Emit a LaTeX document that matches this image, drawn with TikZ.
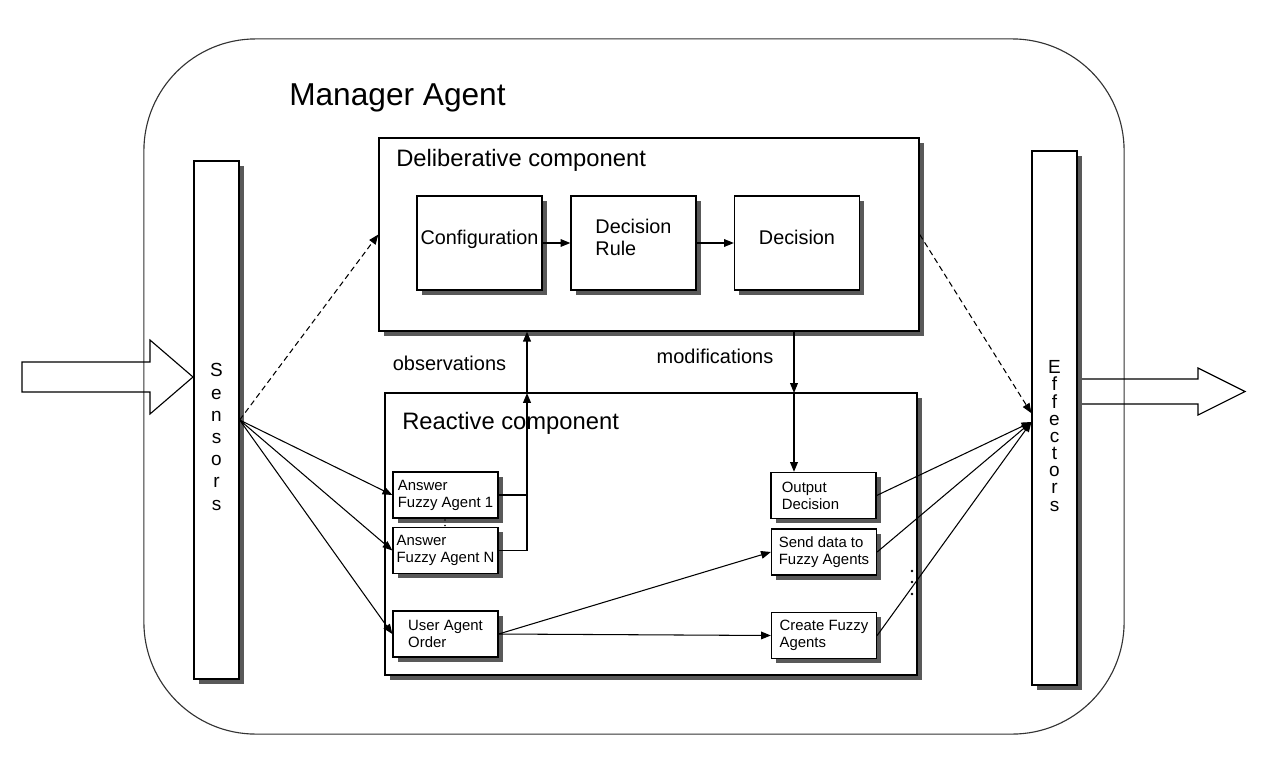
\documentclass[tikz,border=0pt]{standalone}
\usepackage{fontspec}
\setmainfont{Liberation Sans}
\usetikzlibrary{arrows.meta,shadows}

\begin{document}
\begin{tikzpicture}[x=0.025cm, y=-0.025cm, >={Triangle[length=7pt,width=5.5pt]},
  shade box/.style={draw, fill=white, line width=0.9pt, inner sep=0pt,
    drop shadow={shadow xshift=0.12cm, shadow yshift=-0.12cm, fill=black!65, opacity=1}},
  sidebar/.style={shade box, minimum width=1.125cm},
  sidetext/.style={inner sep=0pt, align=center},
  rulebox/.style={shade box, minimum width=3.125cm, minimum height=2.35cm, align=left,
    text depth=8pt, font=\fontsize{14.1}{15.6}\selectfont},
  taskbox/.style={shade box, minimum width=2.625cm, minimum height=1.15cm, align=left,
    font=\fontsize{10.6}{12.1}\selectfont},
  heading/.style={inner sep=0pt, anchor=west, font=\fontsize{16.9}{20}\selectfont},
  flow/.style={line width=0.75pt},
  hint/.style={flow, dash pattern=on 4pt off 2.6pt},
  bigarrow/.style={line width=0.8pt}]
  \useasboundingbox (0,0) rectangle (1276,776);

  \node[draw=black!80, line width=0.8pt, rounded corners=2.8cm,
    minimum width=24.5cm, minimum height=17.375cm] (mgr) at (634,386.5) {};
  \node[inner sep=0pt, anchor=west, font=\fontsize{22.5}{27}\selectfont] (mgrtitle) at (289,98) {Manager Agent};

  \node[sidebar, minimum height=12.95cm] (sens) at (216.5,420) {};
  \node[sidetext, font=\fontsize{13.5}{15.8}\selectfont] (senstext) at (216.5,437)
    {S\\e\\n\\s\\o\\r\\s};
  \node[sidebar, minimum height=13.35cm] (eff) at (1054.5,418) {};
  \node[sidetext, font=\fontsize{13.5}{12.2}\selectfont] (efftext) at (1054.5,436)
    {E\\f\\f\\e\\c\\t\\o\\r\\s};

  \node[shade box, minimum width=13.5cm, minimum height=4.825cm] (delib) at (649,234.5) {};
  \node[heading] (delibtitle) at (396,160) {Deliberative component};
  \node[rulebox] (conf) at (479.5,243) {Configuration};
  \node[rulebox] (rule) at (633.5,243) {Decision\\Rule};
  \node[rulebox] (dec) at (797,243) {Decision};

  \node[shade box, line width=2pt, minimum width=13.3cm, minimum height=7.05cm] (react) at (651,534) {};
  \node[heading] (reacttitle) at (402,423) {Reactive component};
  \node[taskbox] (ans1) at (445.5,495) {Answer\\Fuzzy Agent 1};
  \node[taskbox] (ansN) at (445.5,550.5) {Answer\\Fuzzy Agent N};
  \node[taskbox] (user) at (445.5,634) {User Agent\\Order};
  \node[taskbox, text width=2.08cm] (outdec) at (823.5,495.5) {Output\\Decision};
  \node[taskbox] (send) at (824,552) {Send data to\\Fuzzy Agents};
  \node[taskbox] (create) at (824,635.5) {Create Fuzzy\\Agents};

  \node[inner sep=0pt, font=\fontsize{14.2}{17}\selectfont] (obslabel) at (449.5,363) {observations};
  \node[inner sep=0pt, font=\fontsize{14.2}{17}\selectfont] (modlabel) at (715,356) {modifications};

  \coordinate (obs) at (527,393);
  \coordinate (mod) at (794,393);

  \draw[flow, ->] (conf) to (rule);
  \draw[flow, ->] (rule) to (dec);

  \draw[hint, ->] (sens.east) to (delib.west);
  \draw[hint, ->] (delib.east) to ([yshift=0.12cm]eff.west);

  \foreach \t in {ans1,ansN,user}
    \draw[flow, ->] (sens.east) to (\t.west);
  \foreach \t in {outdec,send,create}
    \draw[flow, ->] (\t.east) to ([yshift=-0.1cm]eff.west);

  \draw[line width=1.1pt] (ans1.east) -- (ans1.east -| obs);
  \draw[line width=1.1pt, ->] (ansN.east) -| (obs);
  \draw[line width=1.1pt, ->] (obs) to (obs |- delib.south);
  \draw[flow, ->] (mod |- delib.south) to (mod);
  \draw[line width=1.1pt, ->] (mod) to (mod |- outdec.north);

  \draw[flow, ->] (user.east) to (send.west);
  \draw[flow, ->] (user.east) to (create.west);

  \foreach \y in {571,582,594}
    \fill (912,\y) circle (1pt);
  \fill (445,520) circle (0.6pt);
  \fill (445,525.5) circle (0.6pt);

  \draw[bigarrow] (22,362) -- (150,362) -- (150,340) -- (193,377) -- (150,414) -- (150,392) -- (22,392) -- cycle;
  \draw[bigarrow] (1082,379) -- (1198,379) -- (1198,368) -- (1245,391.5) -- (1198,415) -- (1198,404) -- (1082,404);
\end{tikzpicture}
\end{document}
